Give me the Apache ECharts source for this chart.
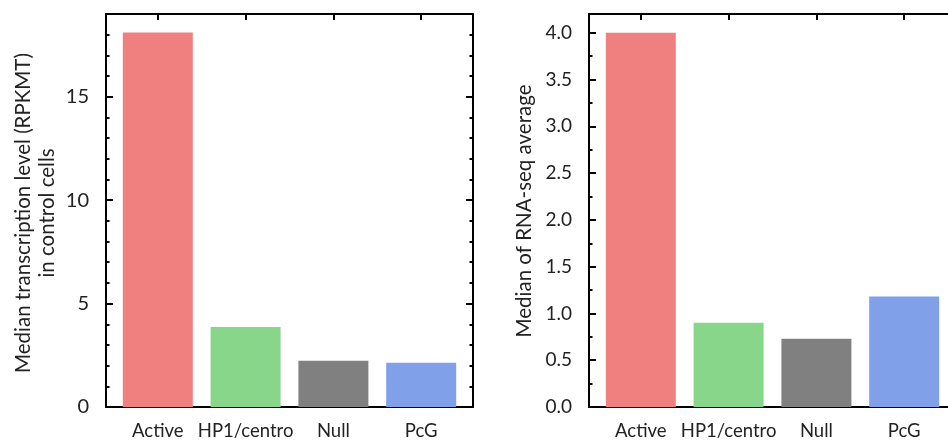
<!DOCTYPE html>
<html>
<head>
<meta charset="utf-8">
<script src="https://cdn.jsdelivr.net/npm/echarts@6/dist/echarts.min.js"></script>
<style>
html,body{margin:0;padding:0;background:#fff;}
#c{width:948px;height:441px;}
</style>
</head>
<body>
<div id="c"></div>
<script>
const categories = ['Active', 'HP1/centro', 'Null', 'PcG'];
const colors = ['#F08080', '#88D68A', '#808080', '#80A0EA'];
const transcription = [18.1, 3.87, 2.24, 2.14];
const rnaSeq = [4.0, 0.9, 0.73, 1.18];
const leftTicks = [0, 5, 10, 15];
const rightTicks = ['0.0', '0.5', '1.0', '1.5', '2.0', '2.5', '3.0', '3.5', '4.0'];
const leftTitle = 'Median transcription level (RPKMT)\nin control cells';
const rightTitle = 'Median of RNA-seq average';

const FONT = 'Lato';
const INK = '#222';
const idx = categories.map((_, i) => i);

function xAxes(gridIndex) {
  const base = {
    type: 'value', gridIndex, min: -0.59, max: 3.59,
    axisLine: { show: true, onZero: false, lineStyle: { color: '#000', width: 2 } },
    splitLine: { show: false }
  };
  return [
    Object.assign({}, base, {
      position: 'bottom',
      axisTick: { show: true, inside: true, length: 6, lineStyle: { width: 2, color: '#000' }, customValues: idx },
      axisLabel: { show: true, customValues: idx, margin: 15, fontFamily: FONT, fontSize: 18.5, color: INK,
        formatter: v => categories[Math.round(v)] }
    }),
    Object.assign({}, base, {
      position: 'top',
      axisTick: { show: true, inside: true, length: 6, lineStyle: { width: 2, color: '#000' }, customValues: idx },
      axisLabel: { show: false }
    })
  ];
}

function yAxes(gridIndex, max, interval, minorSplit, fontSize, fmt) {
  const base = {
    type: 'value', gridIndex, min: 0, max, interval,
    axisLine: { show: true, onZero: false, lineStyle: { color: '#000', width: 2 } },
    axisTick: { show: true, inside: true, length: 7, lineStyle: { width: 2, color: '#000' } },
    minorTick: { show: true, splitNumber: minorSplit, length: 3.5, lineStyle: { width: 2, color: '#000' } },
    splitLine: { show: false }, minorSplitLine: { show: false }
  };
  return [
    Object.assign({}, base, {
      position: 'left',
      axisLabel: { show: true, margin: 17, fontFamily: FONT, fontSize, color: INK, formatter: fmt,
        showMaxLabel: false }
    }),
    Object.assign({}, base, {
      position: 'right',
      axisLabel: { show: false }
    })
  ];
}

function barData(values) {
  return values.map((v, i) => ({ value: [i, v], itemStyle: { color: colors[i] } }));
}

const option = {
  animation: false,
  backgroundColor: '#fff',
  grid: [
    { left: 106, top: 14, right: 475, bottom: 34, outerBoundsMode: 'none', containLabel: false },
    { left: 589, top: 14, right: -8, bottom: 34, outerBoundsMode: 'none', containLabel: false }
  ],
  xAxis: [...xAxes(0), ...xAxes(1)],
  yAxis: [
    ...yAxes(0, 19, 5, 5, 20, v => (leftTicks.includes(v) ? String(v) : '')),
    ...yAxes(1, 4.2, 0.5, 2, 19, v => {
      const s = v.toFixed(1);
      return rightTicks.includes(s) ? s : '';
    })
  ],
  series: [
    { type: 'bar', xAxisIndex: 0, yAxisIndex: 0, barWidth: 70, data: barData(transcription) },
    { type: 'bar', xAxisIndex: 2, yAxisIndex: 2, barWidth: 70, data: barData(rnaSeq) }
  ],
  graphic: [
    { type: 'text', x: 35, y: 213, rotation: Math.PI / 2,
      style: { text: leftTitle, fontFamily: FONT, fontSize: 20.5, lineHeight: 24, fill: INK,
        align: 'center', verticalAlign: 'middle' } },
    { type: 'text', x: 524, y: 211, rotation: Math.PI / 2,
      style: { text: rightTitle, fontFamily: FONT, fontSize: 20.5, fill: INK,
        align: 'center', verticalAlign: 'middle' } }
  ]
};

const chart = echarts.init(document.getElementById('c'), null, { renderer: 'canvas' });
chart.setOption(option);
</script>
</body>
</html>
